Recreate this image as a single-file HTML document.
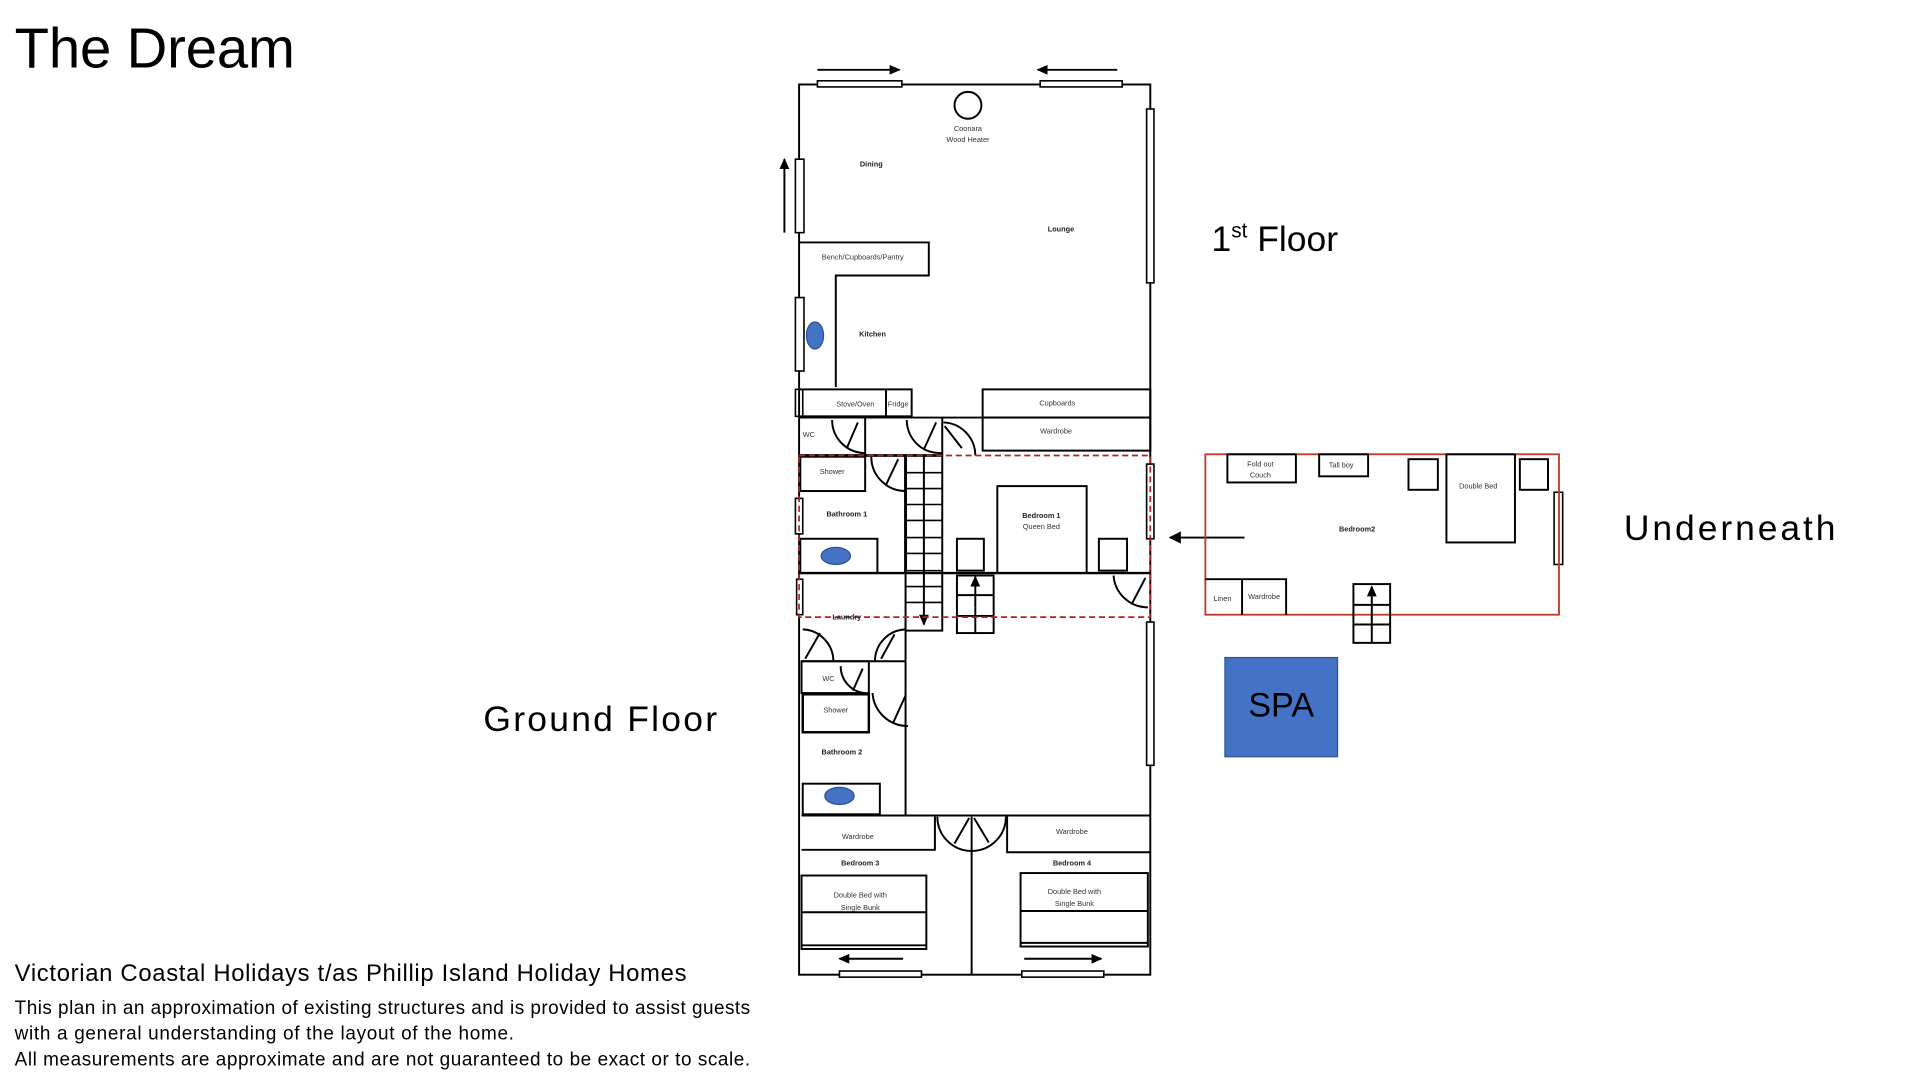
<!DOCTYPE html>
<html><head><meta charset="utf-8"><style>
html,body{margin:0;padding:0;background:#fff;width:1920px;height:1080px;overflow:hidden}
svg{display:block}
text{font-family:"Liberation Sans",sans-serif;fill:#000}
.s{font-size:6px;fill:#333}
.b{font-size:6px;font-weight:bold;fill:#222}
</style></head><body>
<svg width="1920" height="1080" viewBox="0 0 1569 882" preserveAspectRatio="none" xmlns="http://www.w3.org/2000/svg">
<defs><marker id="ah" markerWidth="9" markerHeight="8" refX="8" refY="4" orient="auto" markerUnits="userSpaceOnUse"><path d="M0,0 L9,4 L0,8z" fill="#000"/></marker>
<marker id="ah2" markerWidth="10" markerHeight="10" refX="9" refY="5" orient="auto" markerUnits="userSpaceOnUse"><path d="M0,0 L10,5 L0,10z" fill="#000"/></marker></defs>
<text x="12" y="55" font-size="46" textLength="229">The Dream</text>
<text x="990" y="205" font-size="29">1<tspan font-size="17" dy="-11">st</tspan><tspan dy="11"> Floor</tspan></text>
<text x="1327" y="441" font-size="29" textLength="173">Underneath</text>
<text x="395" y="597" font-size="29" textLength="191">Ground Floor</text>
<text x="12" y="801" font-size="19.5" textLength="549">Victorian Coastal Holidays t/as Phillip Island Holiday Homes</text>
<text x="12" y="828" font-size="15.5" textLength="601">This plan in an approximation of existing structures and is provided to assist guests</text>
<text x="12" y="849" font-size="15.5" textLength="408">with a general understanding of the layout of the home.</text>
<text x="12" y="870" font-size="15.5" textLength="601">All measurements are approximate and are not guaranteed to be exact or to scale.</text>

<g fill="none" stroke="#000" stroke-width="1.6">
<rect x="653" y="69" width="287" height="727"/>
<g fill="#fff" stroke-width="1.3">
<rect x="668" y="66" width="69" height="5"/><rect x="850" y="66" width="67" height="5"/>
<rect x="937" y="89" width="6" height="142"/><rect x="937" y="379" width="6" height="61"/><rect x="937" y="508" width="6" height="117"/>
<rect x="650" y="130" width="7" height="60"/><rect x="650" y="243" width="7" height="60"/><rect x="650" y="318" width="6" height="22"/>
<rect x="650" y="407" width="6" height="29"/><rect x="651" y="473" width="5" height="29"/>
<rect x="686" y="793" width="67" height="5"/><rect x="835" y="793" width="67" height="5"/>
<rect x="1270" y="402" width="7" height="59"/>
</g>
<line x1="668" y1="57" x2="735" y2="57" marker-end="url(#ah)"/>
<line x1="913" y1="57" x2="848" y2="57" marker-end="url(#ah)"/>
<line x1="641" y1="190" x2="641" y2="130" marker-end="url(#ah)"/>
<line x1="738" y1="783" x2="686" y2="783" marker-end="url(#ah)"/>
<line x1="837" y1="783" x2="900" y2="783" marker-end="url(#ah)"/>
<line x1="1017" y1="439" x2="956" y2="439" marker-end="url(#ah2)"/>
<circle cx="791" cy="86" r="11"/>
<polyline points="653,198 759,198 759,225 683,225 683,316"/>
<rect x="653" y="318" width="92" height="22"/><line x1="724" y1="318" x2="724" y2="340"/>
<rect x="803" y="318" width="137" height="23"/><rect x="803" y="341" width="137" height="27"/>
<line x1="653" y1="341" x2="803" y2="341"/>
<line x1="707" y1="341" x2="707" y2="372"/><line x1="770" y1="341" x2="770" y2="372"/>
<path d="M680,343 A27,27 0 0 0 707,370"/><line x1="701" y1="345" x2="692" y2="366"/>
<path d="M741,343 A27,27 0 0 0 770,370"/><line x1="765" y1="345" x2="755" y2="367"/>
<path d="M771,345 A27,27 0 0 1 797,372"/><line x1="772" y1="348" x2="786" y2="366"/>
<line x1="653" y1="372" x2="770" y2="372" stroke-width="2.2"/>
<rect x="654" y="373" width="53" height="28"/>
<path d="M712,373 A28,28 0 0 0 740,401"/><line x1="734" y1="375" x2="724" y2="396"/>
<rect x="654" y="440" width="63" height="28"/>
<line x1="653" y1="468" x2="940" y2="468" stroke-width="2"/>
<rect x="740" y="372" width="30" height="143"/><line x1="740" y1="372" x2="740" y2="468" stroke-width="2.4"/>
<line x1="755" y1="372" x2="755" y2="510" marker-end="url(#ah)"/>
<g stroke-width="1.3"><line x1="740" y1="386" x2="770" y2="386"/><line x1="740" y1="399" x2="770" y2="399"/><line x1="740" y1="412" x2="770" y2="412"/><line x1="740" y1="425" x2="770" y2="425"/><line x1="740" y1="439" x2="770" y2="439"/><line x1="740" y1="452" x2="770" y2="452"/><line x1="740" y1="466" x2="770" y2="466"/><line x1="740" y1="479" x2="770" y2="479"/><line x1="740" y1="492" x2="770" y2="492"/></g>
<rect x="815" y="397" width="73" height="71"/>
<rect x="782" y="440" width="22" height="26"/><rect x="898" y="440" width="23" height="26"/>
<rect x="782" y="470" width="30" height="47"/><line x1="797" y1="496" x2="797" y2="517"/><line x1="782" y1="486" x2="812" y2="486"/><line x1="782" y1="503" x2="812" y2="503"/>
<line x1="797" y1="496" x2="797" y2="471" marker-end="url(#ah)"/>
<path d="M910,470 A28,28 0 0 0 938,496"/><line x1="936" y1="472" x2="925" y2="493"/>
<line x1="740" y1="504" x2="740" y2="666"/>
<path d="M656,514 A26,26 0 0 1 681,540"/><line x1="658" y1="538" x2="670" y2="517"/>
<path d="M715,540 A26,26 0 0 1 740,514"/><line x1="720" y1="538" x2="731" y2="518"/>
<line x1="655" y1="540" x2="740" y2="540"/>
<rect x="655" y="540" width="55" height="26"/>
<path d="M687,544 A22,22 0 0 0 706,566"/><line x1="705" y1="546" x2="697" y2="564"/>
<rect x="656" y="567" width="54" height="31" stroke-width="2"/>
<path d="M713,566 A29,29 0 0 0 742,593"/><line x1="740" y1="568" x2="730" y2="590"/>
<rect x="656" y="640" width="63" height="25"/>
<line x1="655" y1="666" x2="940" y2="666"/>
<polyline points="655,694 764,694 764,666"/>
<polyline points="823,666 823,696 940,696"/>
<path d="M766,667 A28,28 0 0 0 822,667"/><line x1="794" y1="667" x2="794" y2="796"/>
<line x1="792" y1="668" x2="780" y2="689"/><line x1="796" y1="668" x2="808" y2="688"/>
<rect x="655" y="715" width="102" height="60"/><line x1="655" y1="745" x2="757" y2="745"/><line x1="655" y1="772" x2="757" y2="772"/>
<rect x="834" y="713" width="104" height="60"/><line x1="834" y1="744" x2="938" y2="744"/><line x1="834" y1="770" x2="938" y2="770"/>
<rect x="985" y="371" width="289" height="131" stroke="#c0392b" stroke-width="1.5"/>
<rect x="1003" y="371" width="56" height="23"/><rect x="1078" y="371" width="40" height="18"/>
<rect x="1151" y="375" width="24" height="25"/><rect x="1182" y="371" width="56" height="72"/><rect x="1242" y="375" width="23" height="25"/>
<polyline points="985,473 1051,473 1051,502"/><line x1="1015" y1="473" x2="1015" y2="502"/>
<rect x="1106" y="477" width="30" height="48"/><line x1="1106" y1="494" x2="1136" y2="494"/><line x1="1106" y1="510" x2="1136" y2="510"/><line x1="1121" y1="496" x2="1121" y2="525"/>
<line x1="1121" y1="496" x2="1121" y2="479" marker-end="url(#ah)"/>
</g>
<rect x="653" y="372" width="287" height="132" fill="none" stroke="#b22222" stroke-width="1.4" stroke-dasharray="5,3"/>
<g fill="#4472c4" stroke="#2f528f" stroke-width="1"><ellipse cx="666" cy="274" rx="7" ry="11"/><ellipse cx="683" cy="454" rx="12" ry="7"/><ellipse cx="686" cy="650" rx="12" ry="7"/></g>
<rect x="1001" y="537" width="92" height="81" fill="#4472c4" stroke="#2f528f"/>
<text x="1047" y="585" font-size="28" text-anchor="middle">SPA</text>
<g text-anchor="middle">
<text class="s" x="791" y="107" fill="#b22">Coonara</text><text class="s" x="791" y="116">Wood Heater</text>
<text class="b" x="712" y="136">Dining</text><text class="b" x="867" y="189">Lounge</text><text class="b" x="713" y="275">Kitchen</text>
<text class="s" x="705" y="212">Bench/Cupboards/Pantry</text>
<text class="s" x="699" y="332">Stove/Oven</text><text class="s" x="734" y="332">Fridge</text>
<text class="s" x="864" y="331">Cupboards</text><text class="s" x="863" y="354">Wardrobe</text>
<text class="s" x="661" y="357">WC</text><text class="s" x="680" y="387">Shower</text>
<text class="b" x="692" y="422">Bathroom 1</text>
<text class="b" x="851" y="423">Bedroom 1</text><text class="s" x="851" y="432">Queen Bed</text>
<text class="b" x="692" y="506" fill="#8b1a1a">Laundry</text>
<text class="s" x="677" y="556">WC</text><text class="s" x="683" y="582">Shower</text>
<text class="b" x="688" y="616">Bathroom 2</text>
<text class="s" x="701" y="685">Wardrobe</text><text class="s" x="876" y="681">Wardrobe</text>
<text class="b" x="703" y="707">Bedroom 3</text><text class="b" x="876" y="707">Bedroom 4</text>
<text class="s" x="703" y="733">Double Bed with</text><text class="s" x="703" y="743">Single Bunk</text>
<text class="s" x="878" y="730">Double Bed with</text><text class="s" x="878" y="740">Single Bunk</text>
<text class="s" x="1030" y="381">Fold out</text><text class="s" x="1030" y="390">Couch</text>
<text class="s" x="1096" y="382">Tall boy</text><text class="s" x="1208" y="399">Double Bed</text>
<text class="b" x="1109" y="434">Bedroom2</text>
<text class="s" x="999" y="491">Linen</text><text class="s" x="1033" y="489">Wardrobe</text>
</g>
</svg>
</body></html>
